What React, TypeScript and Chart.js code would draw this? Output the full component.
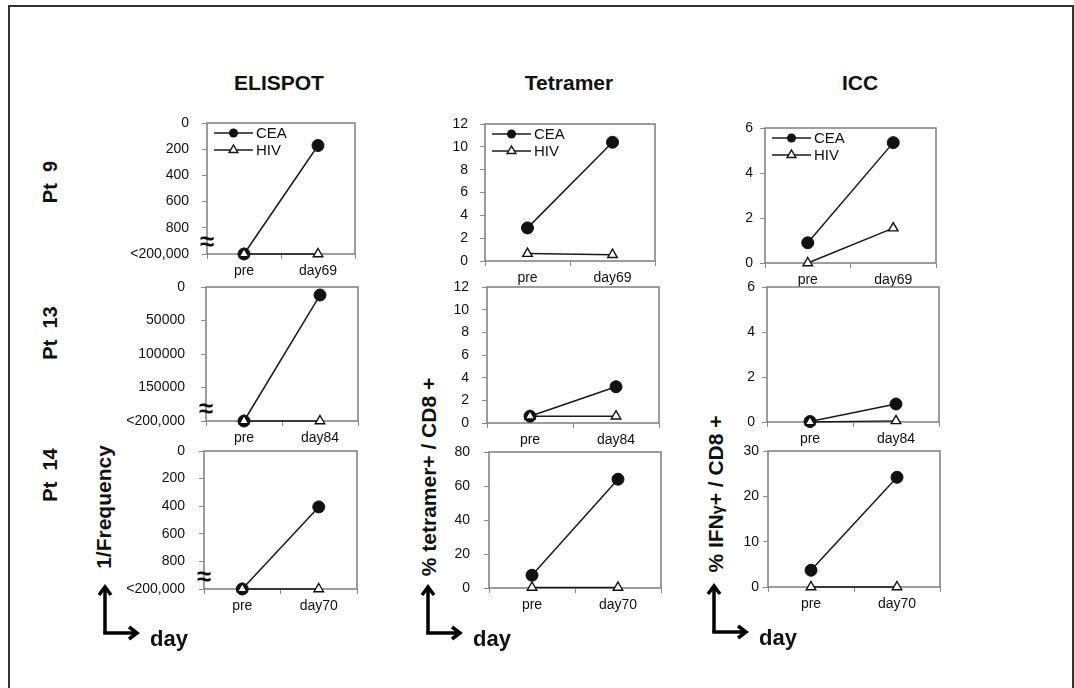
import React, { useEffect, useRef } from "react";
import { Chart, registerables } from "chart.js";

Chart.register(...registerables);

// ---------- data ----------
const categoriesPt9 = ["pre", "day69"];
const categoriesPt13 = ["pre", "day84"];
const categoriesPt14 = ["pre", "day70"];
const seriesNames = ["CEA", "HIV"];
const columnTitles = ["ELISPOT", "Tetramer", "ICC"];
const patientLabels = ["Pt  9", "Pt  13", "Pt  14"];
const elispotLowLabel = "<200,000";

// ELISPOT: 1/Frequency (reversed axis; bottom = <200,000)
const elispotPt9CEA = [1000, 172];
const elispotPt9HIV = [1000, 1000];
const elispotPt13CEA = [200000, 12000];
const elispotPt13HIV = [200000, 200000];
const elispotPt14CEA = [1000, 405];
const elispotPt14HIV = [1000, 1000];

// Tetramer: % tetramer+ / CD8+
const tetramerPt9CEA = [2.9, 10.4];
const tetramerPt9HIV = [0.65, 0.55];
const tetramerPt13CEA = [0.6, 3.2];
const tetramerPt13HIV = [0.6, 0.6];
const tetramerPt14CEA = [7.5, 64];
const tetramerPt14HIV = [0.3, 0.3];

// ICC: % IFNγ+ / CD8+
const iccPt9CEA = [0.9, 5.35];
const iccPt9HIV = [0, 1.55];
const iccPt13CEA = [0.02, 0.8];
const iccPt13HIV = [0, 0.05];
const iccPt14CEA = [3.7, 24.2];
const iccPt14HIV = [0, 0];

// ---------- layout ----------
const FONT = '"Liberation Sans", Arial, sans-serif';
const Y_W = 100;
const PAD_T = 34;
const PAD_R = 4;
const X_H = 30;

type Rect = { l: number; t: number; r: number; b: number };
type PanelCfg = {
  cats: string[];
  cea: number[];
  hiv: number[];
  min: number;
  max: number;
  step: number;
  reverse: boolean;
  lowLabel?: string;
  legend: boolean;
  brk: boolean;
  labelPad: number;
  rect: Rect;
};

const panels: PanelCfg[] = [
  { cats: categoriesPt9, cea: elispotPt9CEA, hiv: elispotPt9HIV, min: 0, max: 1000, step: 200, reverse: true, lowLabel: elispotLowLabel, legend: true, brk: true, labelPad: 13, rect: { l: 207, t: 123, r: 358, b: 254 } },
  { cats: categoriesPt9, cea: tetramerPt9CEA, hiv: tetramerPt9HIV, min: 0, max: 12, step: 2, reverse: false, legend: true, brk: false, labelPad: 12, rect: { l: 485, t: 124, r: 658, b: 261 } },
  { cats: categoriesPt9, cea: iccPt9CEA, hiv: iccPt9HIV, min: 0, max: 6, step: 2, reverse: false, legend: true, brk: false, labelPad: 7, rect: { l: 765, t: 128, r: 939, b: 263 } },
  { cats: categoriesPt13, cea: elispotPt13CEA, hiv: elispotPt13HIV, min: 0, max: 200000, step: 50000, reverse: true, lowLabel: elispotLowLabel, legend: false, brk: true, labelPad: 16, rect: { l: 206, t: 287, r: 361, b: 421 } },
  { cats: categoriesPt13, cea: tetramerPt13CEA, hiv: tetramerPt13HIV, min: 0, max: 12, step: 2, reverse: false, legend: false, brk: false, labelPad: 13, rect: { l: 487, t: 287, r: 662, b: 423 } },
  { cats: categoriesPt13, cea: iccPt13CEA, hiv: iccPt13HIV, min: 0, max: 6, step: 2, reverse: false, legend: false, brk: false, labelPad: 7, rect: { l: 767, t: 287, r: 942, b: 422 } },
  { cats: categoriesPt14, cea: elispotPt14CEA, hiv: elispotPt14HIV, min: 0, max: 1000, step: 200, reverse: true, lowLabel: elispotLowLabel, legend: false, brk: true, labelPad: 14, rect: { l: 204, t: 451, r: 360, b: 589 } },
  { cats: categoriesPt14, cea: tetramerPt14CEA, hiv: tetramerPt14HIV, min: 0, max: 80, step: 20, reverse: false, legend: false, brk: false, labelPad: 14, rect: { l: 489, t: 452, r: 664, b: 588 } },
  { cats: categoriesPt14, cea: iccPt14CEA, hiv: iccPt14HIV, min: 0, max: 30, step: 10, reverse: false, legend: false, brk: false, labelPad: 4, rect: { l: 768, t: 451, r: 943, b: 587 } },
];

// ---------- plugins ----------
const framePlugin = {
  id: "panelFrame",
  beforeDatasetsDraw(chart: any) {
    const { ctx, chartArea } = chart;
    ctx.save();
    ctx.strokeStyle = "#858585";
    ctx.lineWidth = 1.6;
    ctx.strokeRect(chartArea.left, chartArea.top, chartArea.right - chartArea.left, chartArea.bottom - chartArea.top);
    ctx.restore();
  },
};

const legendPlugin = {
  id: "panelLegend",
  afterDatasetsDraw(chart: any, _args: any, opts: any) {
    if (!opts || !opts.show) return;
    const { ctx, chartArea } = chart;
    const x0 = chartArea.left + 7;
    const x1 = chartArea.left + 46;
    const xm = (x0 + x1) / 2;
    const rows = [chartArea.top + 10, chartArea.top + 27];
    ctx.save();
    rows.forEach((y: number, i: number) => {
      ctx.strokeStyle = "#1a1a1a";
      ctx.lineWidth = 1.5;
      ctx.beginPath();
      ctx.moveTo(x0, y);
      ctx.lineTo(x1, y);
      ctx.stroke();
      if (i === 0) {
        ctx.fillStyle = "#111";
        ctx.beginPath();
        ctx.arc(xm, y, 4.5, 0, Math.PI * 2);
        ctx.fill();
      } else {
        const r = 5;
        ctx.fillStyle = "#fff";
        ctx.beginPath();
        ctx.moveTo(xm, y - r);
        ctx.lineTo(xm + r * 0.866, y + r * 0.5);
        ctx.lineTo(xm - r * 0.866, y + r * 0.5);
        ctx.closePath();
        ctx.fill();
        ctx.stroke();
      }
      ctx.fillStyle = "#111";
      ctx.font = `15px ${FONT}`;
      ctx.textAlign = "left";
      ctx.textBaseline = "middle";
      ctx.fillText(seriesNames[i], x1 + 3, y + 1);
    });
    ctx.restore();
  },
};

const breakPlugin = {
  id: "axisBreak",
  afterDraw(chart: any, _args: any, opts: any) {
    if (!opts || !opts.show) return;
    const { ctx, chartArea } = chart;
    ctx.save();
    ctx.fillStyle = "#111";
    ctx.font = `bold 26px ${FONT}`;
    ctx.textAlign = "center";
    ctx.textBaseline = "middle";
    ctx.fillText("\u2248", chartArea.left, chartArea.bottom - 11);
    ctx.restore();
  },
};

function Panel({ cfg }: { cfg: PanelCfg }) {
  const ref = useRef<HTMLCanvasElement>(null);
  const plotW = cfg.rect.r - cfg.rect.l;
  const plotH = cfg.rect.b - cfg.rect.t;
  const W = Y_W + plotW + PAD_R;
  const H = PAD_T + plotH + X_H;

  useEffect(() => {
    const tickFont = { family: FONT, size: 14 };
    const chart = new Chart(ref.current as HTMLCanvasElement, {
      type: "line",
      data: {
        labels: cfg.cats,
        datasets: [
          {
            label: seriesNames[0],
            data: cfg.cea,
            borderColor: "#1a1a1a",
            borderWidth: 1.5,
            pointStyle: "circle",
            pointRadius: 6,
            pointBackgroundColor: "#111",
            pointBorderColor: "#111",
            pointBorderWidth: 1,
            order: 2,
            clip: false,
            tension: 0,
          } as any,
          {
            label: seriesNames[1],
            data: cfg.hiv,
            borderColor: "#1a1a1a",
            borderWidth: 1.5,
            pointStyle: "triangle",
            pointRadius: 5.5,
            pointBackgroundColor: "#fff",
            pointBorderColor: "#111",
            pointBorderWidth: 1.4,
            order: 1,
            clip: false,
            tension: 0,
          } as any,
        ],
      },
      options: {
        animation: false,
        responsive: false,
        maintainAspectRatio: false,
        devicePixelRatio: 1,
        layout: { padding: { top: PAD_T, right: PAD_R, left: 0, bottom: 0 } },
        plugins: {
          legend: { display: false },
          tooltip: { enabled: false },
          panelLegend: { show: cfg.legend },
          axisBreak: { show: cfg.brk },
        } as any,
        scales: {
          x: {
            type: "category",
            offset: true,
            grid: { offset: true, drawOnChartArea: false, drawTicks: true, tickLength: 5, color: "#8a8a8a", lineWidth: 1 },
            border: { display: false },
            ticks: { font: tickFont, color: "#111", padding: 4, maxRotation: 0, autoSkip: false },
            afterFit: (s: any) => {
              s.height = X_H;
            },
          },
          y: {
            type: "linear",
            min: cfg.min,
            max: cfg.max,
            reverse: cfg.reverse,
            grid: { drawOnChartArea: false, drawTicks: true, tickLength: 5, color: "#8a8a8a", lineWidth: 1 },
            border: { display: false },
            ticks: {
              stepSize: cfg.step,
              font: tickFont,
              color: "#111",
              padding: cfg.labelPad,
              callback: (v: any) => (cfg.lowLabel && Number(v) === cfg.max ? cfg.lowLabel : String(v)),
            },
            afterFit: (s: any) => {
              s.width = Y_W;
            },
          },
        } as any,
      },
      plugins: [framePlugin, legendPlugin, breakPlugin],
    });
    return () => chart.destroy();
  }, []);

  return (
    <canvas
      ref={ref}
      width={W}
      height={H}
      style={{ position: "absolute", left: cfg.rect.l - Y_W, top: cfg.rect.t - PAD_T, width: W, height: H }}
    />
  );
}

function RotLabel({ x, y, children, size = 21 }: { x: number; y: number; children: React.ReactNode; size?: number }) {
  return (
    <div
      style={{
        position: "absolute",
        left: x,
        top: y,
        transform: "translate(-50%, -50%) rotate(-90deg)",
        whiteSpace: "pre",
        fontFamily: FONT,
        fontWeight: "bold",
        fontSize: size,
        color: "#111",
        lineHeight: 1,
      }}
    >
      {children}
    </div>
  );
}

function DayArrow({ x, y }: { x: number; y: number }) {
  return (
    <>
      <svg style={{ position: "absolute", left: x - 10, top: y - 48, overflow: "visible" }} width={50} height={60}>
        <g stroke="#000" strokeWidth={3.5} fill="none" strokeLinecap="butt" strokeLinejoin="miter">
          <path d={`M10 48 L10 3`} />
          <path d={`M4 10 L10 2 L16 10`} />
          <path d={`M8.25 48 L41 48`} />
          <path d={`M34 42 L42 48 L34 54`} />
        </g>
      </svg>
      <div
        style={{
          position: "absolute",
          left: x + 45,
          top: y - 5,
          fontFamily: FONT,
          fontWeight: "bold",
          fontSize: 22,
          lineHeight: 1,
          color: "#111",
        }}
      >
        day
      </div>
    </>
  );
}

export default function App() {
  const titleX = [279, 569, 860];
  const ptY = [182, 333, 475];
  return (
    <div style={{ position: "absolute", left: 0, top: 0, width: 1074, height: 688, overflow: "hidden", background: "#fff" }}>
      <div
        style={{
          position: "absolute",
          left: 8,
          top: 5,
          width: 1066,
          height: 720,
          boxSizing: "border-box",
          border: "2px solid #333",
        }}
      />
      {columnTitles.map((t, i) => (
        <div
          key={t}
          style={{
            position: "absolute",
            left: titleX[i],
            top: 83,
            transform: "translate(-50%, -50%)",
            fontFamily: FONT,
            fontWeight: "bold",
            fontSize: 21,
            color: "#111",
            whiteSpace: "nowrap",
          }}
        >
          {t}
        </div>
      ))}
      {patientLabels.map((p, i) => (
        <RotLabel key={p} x={50} y={ptY[i]} size={20}>
          {p}
        </RotLabel>
      ))}
      <RotLabel x={103} y={507}>1/Frequency</RotLabel>
      <RotLabel x={428} y={477}>% tetramer+ / CD8 +</RotLabel>
      <RotLabel x={715} y={494}>
        % IFN<span style={{ fontSize: 16 }}>γ</span>+ / CD8 +
      </RotLabel>
      {panels.map((cfg, i) => (
        <Panel key={i} cfg={cfg} />
      ))}
      <DayArrow x={105} y={633} />
      <DayArrow x={428} y={633} />
      <DayArrow x={714} y={632} />
    </div>
  );
}
